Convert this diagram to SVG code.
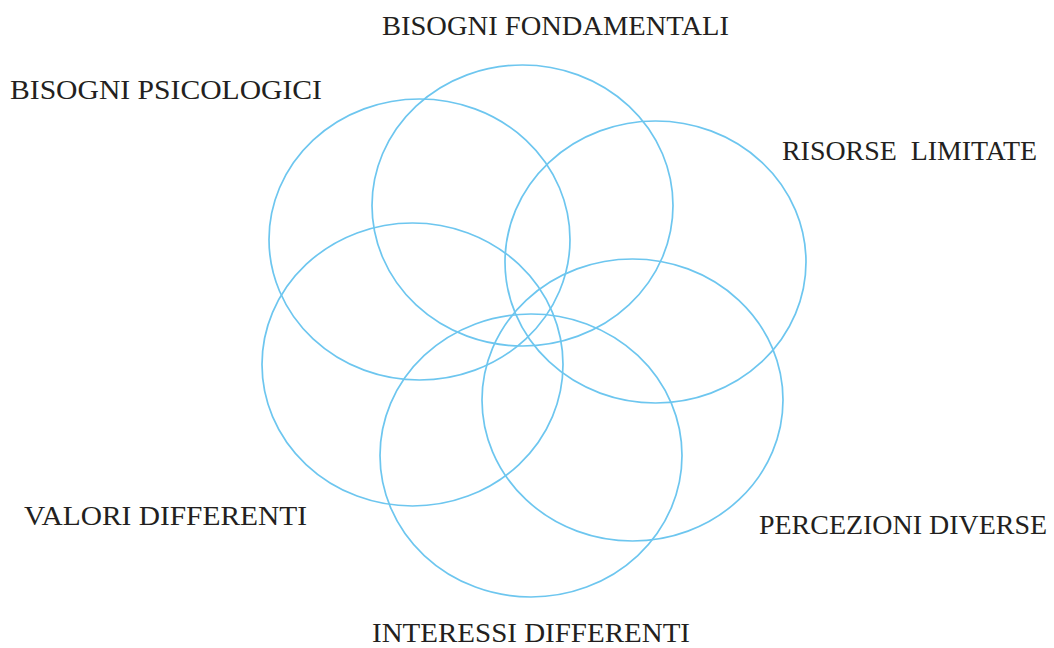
<svg xmlns="http://www.w3.org/2000/svg" width="1054" height="648" viewBox="0 0 1054 648">
<style>
.c{fill:none;stroke:#6dc6ef;stroke-width:1.7}
.t{font-family:"Liberation Serif",serif;font-size:26.5px;fill:#231f20}
</style>
<rect width="1054" height="648" fill="#fff"/>
<g id="n1"><ellipse class="c" cx="522.5" cy="205.5" rx="150.5" ry="140.5"/><text class="t" x="382" y="35" textLength="347" lengthAdjust="spacingAndGlyphs">BISOGNI FONDAMENTALI</text></g>
<g id="n2"><ellipse class="c" cx="419.5" cy="239.5" rx="150.5" ry="140.5"/><text class="t" x="10" y="99" textLength="312" lengthAdjust="spacingAndGlyphs">BISOGNI PSICOLOGICI</text></g>
<g id="n3"><ellipse class="c" cx="655.5" cy="262" rx="150.5" ry="141"/><text class="t" x="782" y="160" textLength="255" lengthAdjust="spacingAndGlyphs" xml:space="preserve">RISORSE  LIMITATE</text></g>
<g id="n4"><ellipse class="c" cx="632.5" cy="400" rx="150.5" ry="141"/><text class="t" x="759" y="534" textLength="288" lengthAdjust="spacingAndGlyphs">PERCEZIONI DIVERSE</text></g>
<g id="n5"><ellipse class="c" cx="531" cy="455.5" rx="151" ry="141.5"/><text class="t" x="372" y="642" textLength="318" lengthAdjust="spacingAndGlyphs">INTERESSI DIFFERENTI</text></g>
<g id="n6"><ellipse class="c" cx="412.5" cy="364.5" rx="150.5" ry="141.5"/><text class="t" x="24" y="525" textLength="283" lengthAdjust="spacingAndGlyphs">VALORI DIFFERENTI</text></g>
<g id="connectors"></g>
</svg>
